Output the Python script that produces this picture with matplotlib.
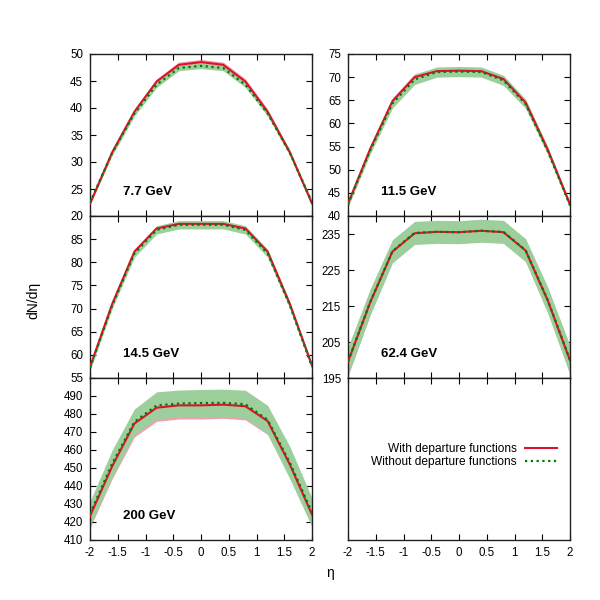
import matplotlib
matplotlib.use("Agg")
import matplotlib.pyplot as plt
import numpy as np

plt.rcParams['font.family'] = ['Liberation Sans', 'DejaVu Sans']

eta = [-2.0, -1.6, -1.2, -0.8, -0.4, 0.0, 0.4, 0.8, 1.2, 1.6, 2.0]

labels = ["7.7 GeV", "11.5 GeV", "14.5 GeV", "62.4 GeV", "200 GeV"]

with_77 = [22.3, 31.8, 39.3, 44.9, 48.0, 48.5, 48.0, 44.9, 39.3, 31.8, 22.3]
with_77_err = [0.3, 0.4, 0.5, 0.5, 0.5, 0.5, 0.5, 0.5, 0.5, 0.4, 0.3]
without_77 = [22.5, 31.7, 39.0, 44.3, 47.4, 47.8, 47.4, 44.3, 39.0, 31.7, 22.5]
without_77_err = [0.4, 0.5, 0.5, 0.5, 0.5, 0.5, 0.5, 0.5, 0.5, 0.5, 0.4]

with_115 = [42.7, 54.5, 64.8, 70.0, 71.3, 71.4, 71.3, 69.6, 64.5, 54.3, 42.5]
with_115_err = [0.5, 0.6, 0.7, 0.7, 0.7, 0.7, 0.7, 0.7, 0.7, 0.6, 0.5]
without_115 = [42.5, 54.2, 64.3, 69.5, 71.1, 71.2, 71.1, 69.3, 64.2, 54.0, 42.3]
without_115_err = [0.6, 0.8, 1.0, 1.1, 1.1, 1.1, 1.1, 1.1, 1.0, 0.8, 0.6]

with_145 = [57.4, 71.0, 82.3, 87.3, 88.3, 88.3, 88.3, 87.3, 82.3, 71.0, 57.7]
with_145_err = [0.4, 0.5, 0.5, 0.5, 0.5, 0.5, 0.5, 0.5, 0.5, 0.5, 0.4]
without_145 = [57.2, 70.7, 81.9, 87.0, 88.1, 88.1, 88.1, 87.0, 81.9, 70.7, 57.4]
without_145_err = [0.6, 0.7, 0.8, 0.9, 0.9, 0.9, 0.9, 0.9, 0.8, 0.7, 0.6]

with_624 = [199.5, 216.0, 230.1, 235.2, 235.6, 235.5, 235.9, 235.5, 230.4, 216.5, 199.9]
with_624_err = [3.8, 3.4, 3.0, 3.0, 3.0, 3.0, 3.0, 3.0, 3.0, 3.4, 3.8]
without_624 = [199.6, 216.1, 230.2, 235.3, 235.6, 235.5, 235.9, 235.6, 230.5, 216.6, 200.0]
without_624_err = [4.0, 3.6, 3.2, 3.2, 3.2, 3.2, 3.2, 3.2, 3.2, 3.6, 4.0]

with_200 = [423.3, 451.0, 474.7, 483.5, 484.8, 484.8, 485.2, 484.3, 476.1, 452.0, 424.2]
with_200_err = [6.5, 7.0, 7.5, 7.6, 7.6, 7.6, 7.6, 7.6, 7.5, 7.0, 6.5]
without_200 = [424.5, 452.5, 475.6, 484.8, 485.8, 486.1, 486.2, 485.4, 476.8, 453.0, 425.3]
without_200_err = [7.0, 7.5, 7.2, 7.5, 7.5, 7.5, 7.6, 7.8, 8.0, 9.0, 8.0]

ylims = [(20, 50), (40, 75), (55, 90), (195, 240), (410, 500)]
yticks = [list(range(20, 51, 5)), list(range(40, 76, 5)), list(range(55, 91, 5)),
          list(range(195, 236, 10)), list(range(410, 501, 10))]
hide_top = [False, False, True, False, True]

series = [
    (with_77, with_77_err, without_77, without_77_err),
    (with_115, with_115_err, without_115, without_115_err),
    (with_145, with_145_err, without_145, without_145_err),
    (with_624, with_624_err, without_624, without_624_err),
    (with_200, with_200_err, without_200, without_200_err),
]

RED = '#e0102f'
GREEN_LINE = '#007a00'
PINK = '#f0a0b0'
LIGHTGREEN = '#9ccf9c'

fig = plt.figure(figsize=(6, 6), dpi=100)
lefts = [0.15, 0.58]
width = 0.37
height = 0.27
bottoms = [0.64, 0.37, 0.10]

axes = []
for r in range(3):
    for c in range(2):
        ax = fig.add_axes([lefts[c], bottoms[r], width, height])
        axes.append(ax)

for i, ax in enumerate(axes):
    ax.set_xlim(-2, 2)
    ax.set_xticks(np.arange(-2, 2.01, 0.5))
    ax.tick_params(direction='in', top=True, right=True, length=4, width=0.8,
                   labelsize=8.3, pad=5, colors='black')
    for s in ax.spines.values():
        s.set_linewidth(1.0)
        s.set_color('#202020')
    row = i // 2
    if row < 2:
        ax.tick_params(labelbottom=False)
    else:
        ax.set_xticklabels(['-2', '-1.5', '-1', '-0.5', '0', '0.5', '1', '1.5', '2'])

for i in range(5):
    ax = axes[i]
    w, we, wo, woe = [np.array(a, dtype=float) for a in series[i]]
    ax.fill_between(eta, w - we, w + we, color=PINK, lw=0, zorder=1)
    ax.fill_between(eta, wo - woe, wo + woe, color=LIGHTGREEN, lw=0, zorder=2)
    ax.plot(eta, w, color=RED, lw=1.5, zorder=3, label='With departure functions')
    ax.plot(eta, wo, color=GREEN_LINE, lw=1.6, ls=(0, (1, 1.6)), zorder=4,
            label='Without departure functions')
    ax.set_ylim(*ylims[i])
    ax.set_yticks(yticks[i])
    tl = [str(t) for t in yticks[i]]
    if hide_top[i]:
        tl[-1] = ''
    ax.set_yticklabels(tl)
    ax.text(0.15, 0.15, labels[i], transform=ax.transAxes, fontsize=9.5,
            fontweight='bold', ha='left', va='center')

# empty panel with legend
axl = axes[5]
axl.set_ylim(0, 1)
axl.tick_params(left=False, right=False, labelleft=False)
h, l = axes[0].get_legend_handles_labels()
leg = axl.legend(h, l, loc='center right', bbox_to_anchor=(0.99, 0.52),
                 frameon=False, markerfirst=False, fontsize=8.6,
                 handlelength=2.7, labelspacing=0.1, handletextpad=0.7)
for t in leg.get_texts():
    t.set_ha('right')

fig.text(0.055, 0.5, 'dN/dη', rotation=90, ha='center', va='center', fontsize=10)
fig.text(0.55, 0.045, 'η', ha='center', va='center', fontsize=10)

fig.savefig('out.png', dpi=100)
